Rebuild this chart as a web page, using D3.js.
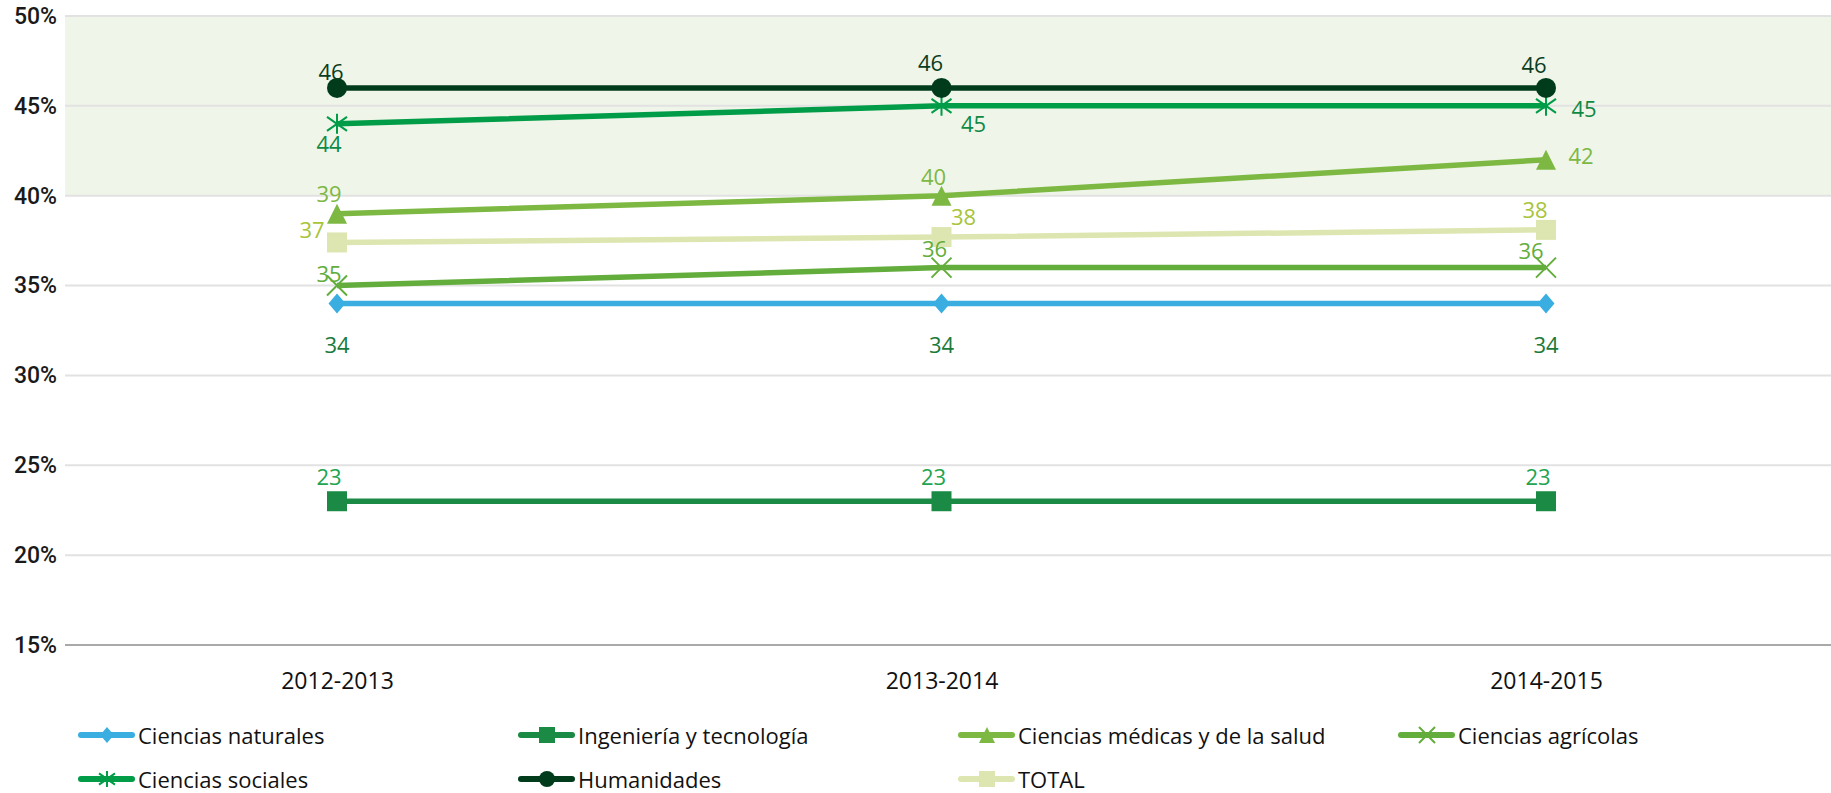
<!DOCTYPE html>
<html>
<head>
<meta charset="utf-8">
<script src="https://cdn.jsdelivr.net/npm/d3@7"></script>
<style>
  body { margin: 0; padding: 0; overflow: hidden; background: #fff; }
</style>
</head>
<body>
<script>
// data
const years = ["2012-2013", "2013-2014", "2014-2015"];
const seriesNames = ["Ciencias naturales", "Ingeniería y tecnología", "Ciencias médicas y de la salud",
  "Ciencias agrícolas", "Ciencias sociales", "Humanidades", "TOTAL"];
const naturales = [34, 34, 34];
const ingenieria = [23, 23, 23];
const medicas = [39, 40, 42];
const agricolas = [35, 36, 36];
const sociales = [44, 45, 45];
const humanidades = [46, 46, 46];
const total = [37.4, 37.7, 38.1];
const yTicks = [15, 20, 25, 30, 35, 40, 45, 50];

// look of each series
const styles = [
  { line: "#3aaee0", label: "#1a7a3a", mark: "diamond" },
  { line: "#1a8a44", label: "#22a450", mark: "square" },
  { line: "#7db843", label: "#7db843", mark: "triangle" },
  { line: "#63ad3c", label: "#63ad3c", mark: "x" },
  { line: "#009c47", label: "#0f8a45", mark: "star" },
  { line: "#003c1c", label: "#0b3d1e", mark: "circle" },
  { line: "#dde6b0", label: "#a8c43a", mark: "square" }
];
// label nudges [dx, dy] per point
const labelNudge = [
  [[0, 40], [0, 40], [0, 40]],
  [[-8, -25], [-8, -25], [-8, -25]],
  [[-8, -21], [-8, -20], [35, -5]],
  [[-8, -13], [-7, -20], [-15, -18]],
  [[-8, 19], [32, 17], [38, 2]],
  [[-6, -17], [-11, -26], [-12, -24]],
  [[-25, -13], [22, -21], [-11, -21]]
];

const allValues = [naturales, ingenieria, medicas, agricolas, sociales, humanidades, total];
const series = seriesNames.map((name, i) => ({ name, values: allValues[i], style: styles[i], nudge: labelNudge[i] }));

const W = 1831, H = 793;
const svg = d3.select("body").append("svg").attr("width", W).attr("height", H);

const plotLeft = 65, plotRight = 1831;
const x = d3.scalePoint().domain(years).range([337, 1546]);
const y = d3.scaleLinear().domain([15, 50]).range([645, 16]);

// shaded band 40-50
svg.append("rect")
  .attr("x", plotLeft).attr("y", y(50))
  .attr("width", plotRight - plotLeft).attr("height", y(40) - y(50))
  .attr("fill", "#eff5e9");

// gridlines
svg.append("g").selectAll("line").data(yTicks).join("line")
  .attr("x1", plotLeft).attr("x2", plotRight)
  .attr("y1", d => y(d)).attr("y2", d => y(d))
  .attr("stroke", d => d === 15 ? "#a9a9a9" : "#e2e2e2")
  .attr("stroke-width", 2);

// y axis
const yAxis = svg.append("g").attr("transform", `translate(57,0)`)
  .call(d3.axisLeft(y).tickValues(yTicks).tickSize(0).tickPadding(0).tickFormat(d => d + "%"));
yAxis.select(".domain").remove();
yAxis.selectAll("text")
  .attr("font-family", "Roboto, sans-serif").attr("font-weight", 500)
  .attr("font-size", 23).attr("fill", "#1a1a1a");

// x axis
const xAxis = svg.append("g").attr("transform", `translate(0,${y(15)})`)
  .call(d3.axisBottom(x).tickSize(0).tickPadding(28));
xAxis.select(".domain").remove();
xAxis.selectAll("text")
  .attr("font-family", "'Open Sans', sans-serif")
  .attr("font-size", 23).attr("fill", "#111");

function markerPath(type, r) {
  switch (type) {
    case "diamond": return `M0,${-r}L${r * 0.85},0L0,${r}L${-r * 0.85},0Z`;
    case "square": return `M${-r},${-r}H${r}V${r}H${-r}Z`;
    case "triangle": return `M0,${-r}L${r},${r}L${-r},${r}Z`;
    case "circle": return d3.symbol(d3.symbolCircle, Math.PI * r * r)();
    case "x": return `M${-r},${-r}L${r},${r}M${-r},${r}L${r},${-r}`;
    case "star": return `M${-r},${-r * 0.7}L${r},${r * 0.7}M${-r},${r * 0.7}L${r},${-r * 0.7}M0,${-r}V${r}`;
  }
}
const strokeOnly = t => t === "x" || t === "star";

const line = d3.line().x((d, i) => x(years[i])).y(d => y(d));

const sg = svg.append("g").selectAll("g").data(series).join("g");
sg.append("path")
  .attr("d", d => line(d.values))
  .attr("fill", "none")
  .attr("stroke", d => d.style.line)
  .attr("stroke-width", 5.5);

sg.each(function (s) {
  const g = d3.select(this);
  g.selectAll("path.mk").data(s.values).join("path")
    .attr("class", "mk")
    .attr("transform", (d, i) => `translate(${x(years[i])},${y(d)})`)
    .attr("d", markerPath(s.style.mark, 10))
    .attr("fill", strokeOnly(s.style.mark) ? "none" : s.style.line)
    .attr("stroke", s.style.line)
    .attr("stroke-width", strokeOnly(s.style.mark) ? 2 : 0);
});

// data labels on top
svg.append("g").selectAll("g").data(series).join("g")
  .each(function (s) {
    d3.select(this).selectAll("text").data(s.values).join("text")
      .attr("x", (d, i) => x(years[i]) + s.nudge[i][0])
      .attr("y", (d, i) => y(d) + s.nudge[i][1])
      .attr("text-anchor", "middle")
      .attr("dominant-baseline", "central")
      .attr("font-family", "'Open Sans', sans-serif")
      .attr("font-size", 22)
      .attr("fill", s.style.label)
      .text(d => Math.round(d));
  });

// legend
const legend = svg.append("g").selectAll("g").data(series).join("g")
  .attr("transform", (d, i) => `translate(${78 + (i % 4) * 440},${735 + Math.floor(i / 4) * 44})`);
legend.append("line")
  .attr("x1", 3).attr("x2", 54)
  .attr("stroke", d => d.style.line)
  .attr("stroke-width", 6)
  .attr("stroke-linecap", "round");
legend.append("path")
  .attr("transform", "translate(29,0)")
  .attr("d", d => markerPath(d.style.mark, 8))
  .attr("fill", d => strokeOnly(d.style.mark) ? "none" : d.style.line)
  .attr("stroke", d => d.style.line)
  .attr("stroke-width", d => strokeOnly(d.style.mark) ? 2 : 0);
legend.append("text")
  .attr("x", 60)
  .attr("dominant-baseline", "central")
  .attr("font-family", "'Open Sans', sans-serif")
  .attr("font-size", 22)
  .attr("fill", "#111")
  .text(d => d.name);
</script>
</body>
</html>
